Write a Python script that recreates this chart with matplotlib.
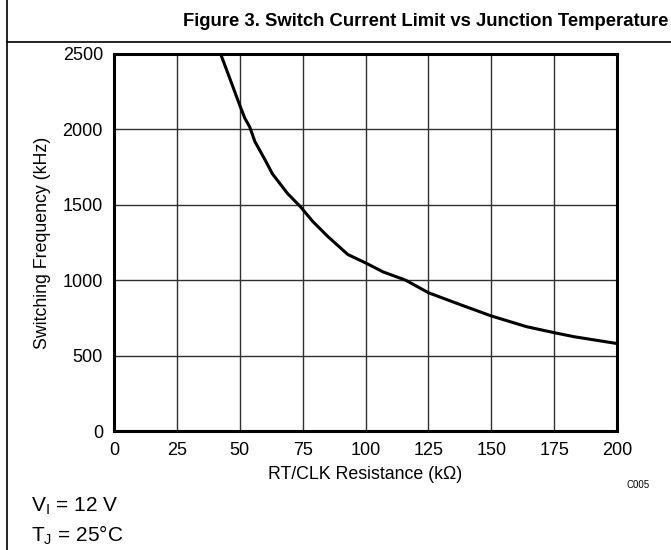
import matplotlib
matplotlib.use("Agg")
import matplotlib.pyplot as plt
from matplotlib.lines import Line2D
import numpy as np

plt.rcParams['font.family'] = ['Liberation Sans', 'DejaVu Sans']
plt.rcParams['mathtext.default'] = 'regular'

# curve
resistance = [42.4, 46, 50, 52, 54, 56, 60, 63, 69, 74, 79, 85, 93, 100,
              107, 116, 125, 138, 150, 164, 175, 183, 200]
frequency = [2500, 2340, 2160, 2075, 2015, 1920, 1800, 1705, 1575, 1490,
             1390, 1290, 1170, 1115, 1055, 1000, 917, 836, 763, 692, 652,
             625, 580]

x_ticks = [0, 25, 50, 75, 100, 125, 150, 175, 200]
y_ticks = [0, 500, 1000, 1500, 2000, 2500]

title = "Figure 3. Switch Current Limit vs Junction Temperature"
conditions = ["V$_I$ = 12 V", "T$_J$ = 25°C"]

fig = plt.figure(figsize=(6.71, 5.5), dpi=100)
ax = fig.add_axes([114 / 671, 119 / 550, 503 / 671, 377 / 550])

ax.plot(resistance, frequency, color='black', lw=2.2, zorder=3)

ax.set_xlim(0, 200)
ax.set_ylim(0, 2500)
ax.set_xticks(x_ticks)
ax.set_yticks(y_ticks)
ax.grid(True, color='#303030', lw=1.0)
ax.tick_params(length=0, labelsize=13, pad=8)
for s in ax.spines.values():
    s.set_linewidth(2.2)

ax.set_xlabel("RT/CLK Resistance (kΩ)", fontsize=12.8, labelpad=5)
ax.set_ylabel("Switching Frequency (kHz)", fontsize=12.8, labelpad=8)

# frame lines of the figure box
fig.add_artist(Line2D([7 / 671, 7 / 671], [0, 1], color='black', lw=1.2))
fig.add_artist(Line2D([7 / 671, 1], [1 - 42 / 550, 1 - 42 / 550], color='black', lw=1.2))

fig.text(668 / 671, 1 - 22 / 550, title, ha='right', va='center',
         fontsize=13.3, fontweight='bold')
fig.text(638 / 671, 1 - 485 / 550, "C005", ha='center', va='center', fontsize=7)
fig.text(31 / 671, 1 - 506 / 550, conditions[0], ha='left', va='center', fontsize=15)
fig.text(31 / 671, 1 - 535 / 550, conditions[1], ha='left', va='center', fontsize=15)

fig.savefig("out.png", dpi=100)
